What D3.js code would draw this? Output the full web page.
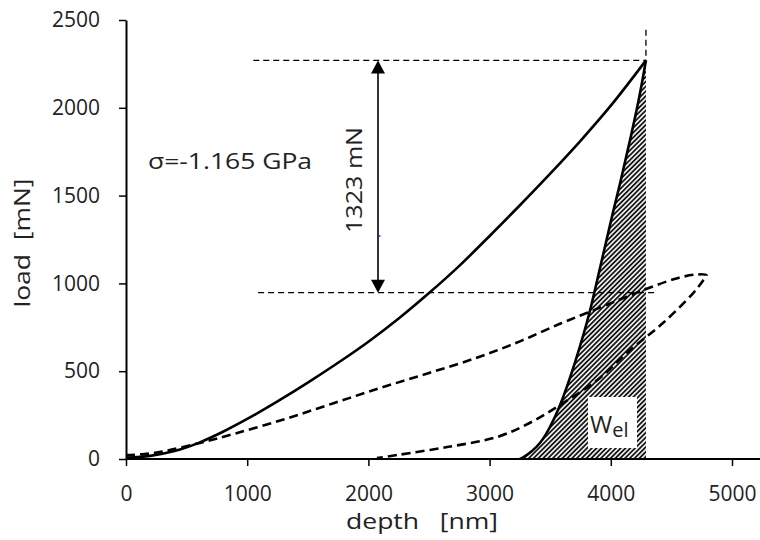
<!DOCTYPE html>
<html>
<head>
<meta charset="utf-8">
<script src="https://cdn.jsdelivr.net/npm/d3@7"></script>
<style>
  html, body { margin: 0; padding: 0; background: #fff; }
  svg { display: block; }
  text { font-family: "Open Sans", "Noto Sans", sans-serif; fill: #222; }
</style>
</head>
<body>
<svg id="chart" width="760" height="540"></svg>
<script>
// ---------- data ----------
const xTicks = [0, 1000, 2000, 3000, 4000, 5000];
const yTicks = [0, 500, 1000, 1500, 2000, 2500];

// solid loading curve
const loadingDepth = [0, 200, 400, 600, 800, 1000, 1250, 1500, 1750, 2000, 2250, 2500, 2750, 3000, 3250, 3500, 3750, 4000, 4290];
const loadingLoad  = [8, 18, 45, 92, 155, 228, 328, 435, 548, 668, 800, 945, 1100, 1270, 1445, 1625, 1812, 2012, 2270];

// solid unloading curve
const unloadDepth = [3250, 3290, 3350, 3420, 3500, 3580, 3700, 3830, 3910, 4020, 4080, 4160, 4240, 4290];
const unloadLoad  = [0, 15, 45, 95, 185, 305, 540, 850, 1085, 1410, 1580, 1820, 2080, 2270];

// dashed loop (loading then unloading)
const dashDepth = [0, 150, 300, 600, 900, 1300, 1700, 2100, 2500, 2900, 3250, 3580, 3850, 4100, 4330, 4550, 4700, 4790, 4760, 4680, 4430, 4160, 3890, 3580, 3330, 3060, 2650, 2240, 2070];
const dashLoad  = [22, 28, 42, 90, 145, 225, 315, 405, 490, 578, 670, 770, 845, 915, 978, 1030, 1050, 1046, 1015, 945, 774, 621, 450, 307, 205, 125, 68, 23, 5];

// annotation values
const maxLoad = 2270;
const maxDepth = 4290;
const lowerLoad = 947;
const deltaLabel = "1323 mN";
const sigmaLabel = "σ=-1.165 GPa";

// ---------- drawing ----------
const svg = d3.select("#chart");
const W = 760;
const x = d3.scaleLinear().domain([0, 5000]).range([126, 732]);
const y = d3.scaleLinear().domain([0, 2500]).range([459, 20]);

const defs = svg.append("defs");
const pat = defs.append("pattern")
  .attr("id", "hatch")
  .attr("patternUnits", "userSpaceOnUse")
  .attr("width", 3.4).attr("height", 3.4)
  .attr("patternTransform", "rotate(45)");
pat.append("rect").attr("width", 3.4).attr("height", 3.4).attr("fill", "#fff");
pat.append("line").attr("x1", 1).attr("y1", 0).attr("x2", 1).attr("y2", 3.4)
  .attr("stroke", "#000").attr("stroke-width", 1.7);

// hatched area W_el: between unloading curve and the vertical at maxDepth
const unloadPts = unloadDepth.map((d, i) => [d, unloadLoad[i]]);
const hatchPath = d3.line().x(d => x(d[0])).y(d => y(d[1])).curve(d3.curveMonotoneX)(unloadPts)
  + `L${x(maxDepth)},${y(0)}Z`;
svg.append("path").attr("d", hatchPath).attr("fill", "url(#hatch)");

// axes
const gx = svg.append("g").attr("transform", `translate(0,${y(0)})`)
  .call(d3.axisBottom(x).tickValues(xTicks).tickSize(7).tickPadding(20).tickFormat(d3.format("d")));
gx.select(".domain").remove();
gx.selectAll(".tick line").attr("stroke", "#000").attr("stroke-width", 1.5);
gx.selectAll("text").style("font-size", "21px").attr("fill", "#222");
svg.append("line").attr("x1", x(0)).attr("x2", W).attr("y1", y(0)).attr("y2", y(0))
  .attr("stroke", "#000").attr("stroke-width", 2);

const gy = svg.append("g").attr("transform", `translate(${x(0)},0)`)
  .call(d3.axisLeft(y).tickValues(yTicks).tickSize(7).tickSizeOuter(0).tickPadding(19).tickFormat(d3.format("d")));
gy.select(".domain").attr("stroke", "#000").attr("stroke-width", 2);
gy.selectAll(".tick line").attr("stroke", "#000").attr("stroke-width", 1.5);
gy.selectAll("text").style("font-size", "21px").attr("fill", "#222");

// axis titles
svg.append("text").attr("x", 422).attr("y", 529).attr("text-anchor", "middle")
  .style("font-size", "21px").style("white-space", "pre")
  .attr("textLength", 152).attr("lengthAdjust", "spacingAndGlyphs")
  .text("depth   [nm]");
svg.append("text").attr("transform", "translate(30,243) rotate(-90)").attr("text-anchor", "middle")
  .style("font-size", "21px").style("white-space", "pre")
  .attr("textLength", 129).attr("lengthAdjust", "spacingAndGlyphs")
  .text("load  [mN]");

// reference dashed lines
function thinLine(x1, y1, x2, y2) {
  svg.append("line").attr("x1", x1).attr("y1", y1).attr("x2", x2).attr("y2", y2)
    .attr("stroke", "#000").attr("stroke-width", 1.3).attr("stroke-dasharray", "6,4");
}
thinLine(x(1050), y(maxLoad), x(maxDepth), y(maxLoad));
thinLine(x(1090), y(lowerLoad), x(4380), y(lowerLoad));
thinLine(x(maxDepth), y(2445), x(maxDepth), y(maxLoad));

// curves
const lineMono = d3.line().x(d => x(d[0])).y(d => y(d[1])).curve(d3.curveMonotoneX);
svg.append("path")
  .attr("d", lineMono(loadingDepth.map((d, i) => [d, loadingLoad[i]])))
  .attr("fill", "none").attr("stroke", "#000").attr("stroke-width", 2.6);
svg.append("path")
  .attr("d", lineMono(unloadPts))
  .attr("fill", "none").attr("stroke", "#000").attr("stroke-width", 2.6);
svg.append("path")
  .attr("d", d3.line().x(d => x(d[0])).y(d => y(d[1])).curve(d3.curveCatmullRom.alpha(0.5))(dashDepth.map((d, i) => [d, dashLoad[i]])))
  .attr("fill", "none").attr("stroke", "#000").attr("stroke-width", 2.6)
  .attr("stroke-dasharray", "9,5");

// W_el label box
svg.append("rect").attr("x", 588).attr("y", 397).attr("width", 49).attr("height", 51).attr("fill", "#fff");
const wt = svg.append("text").attr("x", 590).attr("y", 433);
wt.append("tspan").style("font-size", "24px").text("W");
wt.append("tspan").style("font-size", "20px").attr("dy", 4).text("el");

// arrow
const ax = 378;
svg.append("line").attr("x1", ax).attr("x2", ax)
  .attr("y1", y(maxLoad) + 8).attr("y2", y(lowerLoad) - 8)
  .attr("stroke", "#000").attr("stroke-width", 1.6);
const ah = 13, aw = 7;
svg.append("path").attr("d", `M${ax},${y(maxLoad)}L${ax - aw},${y(maxLoad) + ah}L${ax + aw},${y(maxLoad) + ah}Z`).attr("fill", "#000");
svg.append("path").attr("d", `M${ax},${y(lowerLoad)}L${ax - aw},${y(lowerLoad) - ah}L${ax + aw},${y(lowerLoad) - ah}Z`).attr("fill", "#000");
svg.append("circle").attr("cx", 379.5).attr("cy", 236).attr("r", 1).attr("fill", "#3344ff");

// annotations
svg.append("text").attr("transform", "translate(362,180) rotate(-90)").attr("text-anchor", "middle")
  .style("font-size", "21px").attr("textLength", 106).attr("lengthAdjust", "spacingAndGlyphs")
  .text(deltaLabel);
svg.append("text").attr("x", 148).attr("y", 169)
  .style("font-size", "21px").attr("textLength", 164).attr("lengthAdjust", "spacingAndGlyphs")
  .text(sigmaLabel);
</script>
</body>
</html>
